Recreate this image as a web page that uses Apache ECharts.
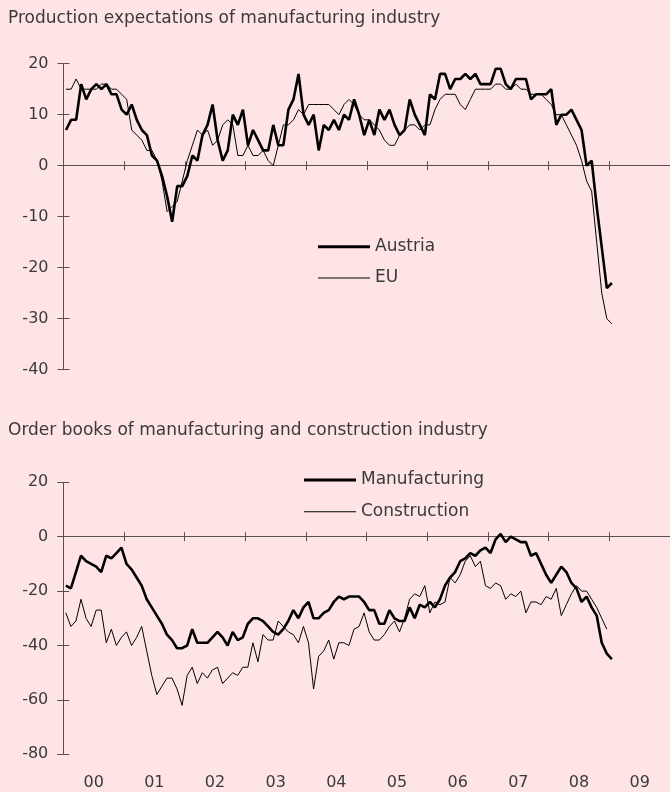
<!DOCTYPE html>
<html>
<head>
<meta charset="utf-8">
<script src="https://cdn.jsdelivr.net/npm/echarts@6/dist/echarts.min.js"></script>
<style>
  html, body { margin: 0; padding: 0; background: #FFE4E6; }
  #chart { width: 670px; height: 792px; }
</style>
</head>
<body>
<div id="chart"></div>
<script>
// monthly values, Jan 2000 onwards
var years = ['00', '01', '02', '03', '04', '05', '06', '07', '08', '09'];

// production expectations
var austria = [
    7, 9, 9, 16, 13, 15, 16, 15, 16, 14, 14, 11,
    10, 12, 9, 7, 6, 2, 1, -2, -6, -11, -4, -4,
    -2, 2, 1, 6, 8, 12, 5, 1, 3, 10, 8, 11,
    4, 7, 5, 3, 3, 8, 4, 4, 11, 13, 18, 10,
    8, 10, 3, 8, 7, 9, 7, 10, 9, 13, 10, 6,
    9, 6, 11, 9, 11, 8, 6, 7, 13, 10, 8, 6,
    14, 13, 18, 18, 15, 17, 17, 18, 17, 18, 16, 16,
    16, 19, 19, 16, 15, 17, 17, 17, 13, 14, 14, 14,
    15, 8, 10, 10, 11, 9, 7, 0, 1, -8, -16, -24,
    -23
];
var eu = [
    15, 15, 17, 15, 15, 15, 15, 16, 16, 15, 15, 14,
    13, 7, 6, 5, 3, 3, 1, -3, -9, -8, -7, -3,
    1, 4, 7, 6, 7, 4, 5, 8, 9, 8, 2, 2,
    4, 2, 2, 3, 1, 0, 4, 8, 8, 9, 11, 10,
    12, 12, 12, 12, 12, 11, 10, 12, 13, 12, 10, 9,
    9, 8, 7, 5, 4, 4, 6, 7, 8, 8, 7, 8,
    8, 11, 13, 14, 14, 14, 12, 11, 13, 15, 15, 15,
    15, 16, 16, 15, 15, 16, 15, 15, 14, 14, 14, 13,
    12, 10, 10, 8, 6, 4, 1, -3, -5, -15, -25, -30,
    -31
];

// order books
var manufacturing = [
    -18, -19, -13, -7, -9, -10, -11, -13, -7, -8, -6, -4,
    -10, -12, -15, -18, -23, -26, -29, -32, -36, -38, -41, -41,
    -40, -34, -39, -39, -39, -37, -35, -37, -40, -35, -38, -37,
    -32, -30, -30, -31, -33, -35, -36, -34, -31, -27, -30, -26,
    -24, -30, -30, -28, -27, -24, -22, -23, -22, -22, -22, -24,
    -27, -27, -32, -32, -27, -30, -31, -31, -26, -30, -25, -26,
    -24, -26, -23, -18, -15, -13, -9, -8, -6, -7, -5, -4,
    -6, -1, 1, -2, 0, -1, -2, -2, -7, -6, -10, -14,
    -17, -14, -11, -13, -17, -19, -24, -22, -26, -29, -39, -43,
    -45
];
var construction = [
    -28, -33, -31, -23, -30, -33, -27, -27, -39, -34, -40, -37,
    -35, -40, -37, -33, -42, -51, -58, -55, -52, -52, -56, -62,
    -51, -48, -54, -50, -52, -49, -48, -54, -52, -50, -51, -48,
    -48, -39, -46, -36, -38, -38, -31, -33, -35, -36, -39, -33,
    -39, -56, -44, -42, -38, -45, -39, -39, -40, -34, -33, -28,
    -35, -38, -38, -36, -33, -31, -35, -30, -23, -21, -22, -18,
    -28, -24, -25, -24, -15, -17, -14, -9, -7, -11, -9, -18,
    -19, -17, -18, -23, -21, -22, -20, -28, -24, -24, -25, -22,
    -23, -19, -29, -25, -21, -18, -20, -20, -23, -26, -30, -34
];

var topTicks = [-40, 20, 10];
var bottomTicks = [-80, 20, 20];

// point in middle of its month
function toPoints(arr) {
    return arr.map(function (v, i) { return [i + 0.5, v]; });
}

var axisColor = '#5a5050';
var textColor = '#3a3a3a';
var font = 'DejaVu Sans';

// x axis through zero, ticks crossing the line (one axis inside, one outside)
function monthAxis(grid, inside, hideLine) {
    return {
        type: 'value', gridIndex: grid, min: 0, max: 120, interval: 12,
        position: 'bottom',
        axisLine: {show: !hideLine, onZero: true, lineStyle: {color: axisColor, width: 1}},
        axisTick: {show: true, inside: inside, length: 4.5, lineStyle: {color: axisColor}},
        axisLabel: {show: false},
        splitLine: {show: false}
    };
}

function valueAxis(grid, ticks, inside) {
    return {
        type: 'value', gridIndex: grid, position: 'left',
        min: ticks[0], max: ticks[1], interval: ticks[2],
        axisLine: {show: !inside, onZero: false, lineStyle: {color: axisColor, width: 1}},
        axisTick: {show: true, inside: inside, length: 6, lineStyle: {color: axisColor}},
        axisLabel: {show: !inside, margin: 15, color: textColor, fontFamily: font, fontSize: 16},
        splitLine: {show: false}
    };
}

function legendItem(name, left, top, h) {
    return {
        data: [name], left: left, top: top, padding: 0,
        icon: 'rect', itemWidth: 52, itemHeight: h,
        selectedMode: false,
        itemStyle: {color: '#000'},
        textStyle: {color: textColor, fontFamily: font, fontSize: 17, lineHeight: 20}
    };
}

var option = {
    backgroundColor: '#FFE4E6',
    animation: false,
    title: [
        {text: 'Production expectations of manufacturing industry', left: 8, top: 8.5, padding: 0,
         textStyle: {color: textColor, fontFamily: font, fontSize: 17, fontWeight: 'normal', lineHeight: 20}},
        {text: 'Order books of manufacturing and construction industry', left: 8, top: 421, padding: 0,
         textStyle: {color: textColor, fontFamily: font, fontSize: 17, fontWeight: 'normal', lineHeight: 20}}
    ],
    legend: [
        legendItem('Austria', 318, 236.7, 3),
        legendItem('EU', 318, 268, 1),
        legendItem('Manufacturing', 304, 470, 3),
        legendItem('Construction', 304, 501.7, 1)
    ],
    grid: [
        {left: 63.5, top: 63.7, width: 612, height: 306},
        {left: 63.3, top: 482.3, width: 607, height: 272}
    ],
    xAxis: [
        monthAxis(0, false, false),
        monthAxis(0, true, true),
        monthAxis(1, false, false),
        monthAxis(1, true, true),
        {
            // year labels, centred in each year
            type: 'category', gridIndex: 1, position: 'bottom', data: years, boundaryGap: true,
            axisLine: {show: false, onZero: false}, axisTick: {show: false},
            axisLabel: {margin: 21, color: textColor, fontFamily: font, fontSize: 16, interval: 0}
        }
    ],
    yAxis: [
        valueAxis(0, topTicks, false),
        valueAxis(0, topTicks, true),
        valueAxis(1, bottomTicks, false),
        valueAxis(1, bottomTicks, true)
    ],
    series: [
        {name: 'Austria', type: 'line', xAxisIndex: 0, yAxisIndex: 0, data: toPoints(austria),
         symbol: 'none', lineStyle: {color: '#000', width: 2.6}, itemStyle: {color: '#000'}, z: 3},
        {name: 'EU', type: 'line', xAxisIndex: 0, yAxisIndex: 0, data: toPoints(eu),
         symbol: 'none', lineStyle: {color: '#000', width: 1}, itemStyle: {color: '#000'}, z: 2},
        {name: 'Manufacturing', type: 'line', xAxisIndex: 2, yAxisIndex: 2, data: toPoints(manufacturing),
         symbol: 'none', lineStyle: {color: '#000', width: 2.6}, itemStyle: {color: '#000'}, z: 3},
        {name: 'Construction', type: 'line', xAxisIndex: 2, yAxisIndex: 2, data: toPoints(construction),
         symbol: 'none', lineStyle: {color: '#000', width: 1}, itemStyle: {color: '#000'}, z: 2}
    ]
};

var mychart = echarts.init(document.getElementById('chart'));
mychart.setOption(option);
</script>
</body>
</html>
